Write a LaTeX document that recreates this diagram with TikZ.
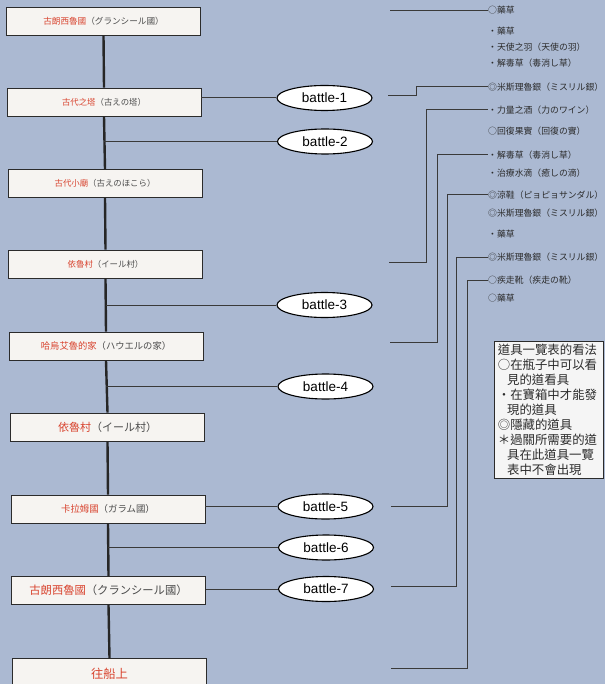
\documentclass[tikz,border=0pt]{standalone}
\usepackage{fontspec}
\setmainfont{Liberation Sans}
\newfontfamily\cjk{Noto Sans CJK TC}
\usetikzlibrary{shapes.geometric}
\definecolor{bg}{HTML}{ABB9D2}
\definecolor{boxfill}{HTML}{F6F4F1}
\definecolor{redtxt}{HTML}{D8432E}
\definecolor{ink}{HTML}{2B2B2B}
\definecolor{linecol}{HTML}{3A3A3A}
\newcommand\plc[2]{\textcolor{redtxt}{#1}\textcolor{ink!85}{（#2）}}
\newcommand\fs[1]{\fontsize{#1}{#1}\selectfont}
\begin{document}
\begin{tikzpicture}[x=1pt,y=-1pt,
  place/.style={draw=ink, line width=0.9pt, fill=boxfill, minimum width=194pt,
    minimum height=28pt, inner sep=0pt, font=\cjk},
  battle/.style={ellipse, draw=black, line width=1.1pt, fill=white,
    minimum width=95pt, minimum height=25pt, inner sep=0pt,
    font=\fontsize{13.5}{14}\selectfont},
  item/.style={anchor=west, inner sep=0pt, text=ink, font=\cjk\fs{8.85}},
  conn/.style={draw=linecol, line width=1pt},
  trunkline/.style={draw=black!85, line width=2.4pt},
  legend/.style={draw=ink, line width=0.7pt, fill=white!92!gray, anchor=north west,
    text width=102pt, inner xsep=3.5pt, inner ysep=2.5pt, align=left, text=ink,
    font=\cjk\fontsize{12.4}{15}\selectfont},
]
\useasboundingbox (0,0) rectangle (605,684);
\clip (0,0) rectangle (605,684);
\fill[bg] (0,0) rectangle (605,684);

% location boxes
\node[place] (box1) at (103.5,21) {\fs{8.6}\plc{古朗西魯國}{グランシール國}};
\node[place] (box2) at (104,102) {\fs{8.4}\plc{古代之塔}{古えの塔}};
\node[place] (box3) at (105,183.5) {\fs{8.4}\plc{古代小廟}{古えのほこら}};
\node[place] (box4) at (105.5,264) {\fs{8.4}\plc{依魯村}{イール村}};
\node[place] (box5) at (106,346) {\fs{9.3}\plc{哈烏艾魯的家}{ハウエルの家}};
\node[place] (box6) at (107.5,427) {\fs{11}\plc{依魯村}{イール村}};
\node[place] (box7) at (108,509) {\fs{9.4}\plc{卡拉姆國}{ガラム國}};
\node[place] (box8) at (108.5,590.5) {\fs{11.3}\plc{古朗西魯國}{クランシール國}};
\node[place, anchor=north, minimum height=30pt] (box9) at (109.5,658)
  {\fs{12.3}\textcolor{redtxt}{往船上}};

% trunk
\draw[trunkline] (box1.south) -- (box2.north);
\draw[trunkline] (box2.south) -- (box3.north);
\draw[trunkline] (box3.south) -- (box4.north);
\draw[trunkline] (box4.south) -- (box5.north);
\draw[trunkline] (box5.south) -- (box6.north);
\draw[trunkline] (box6.south) -- (box7.north);
\draw[trunkline] (box7.south) -- (box8.north);
\draw[trunkline] (box8.south) -- (box9.north);

% battles
\node[battle] (b1) at (324.5,98) {battle-1};
\node[battle] (b2) at (325,141.5) {battle-2};
\node[battle] (b3) at (324.5,305) {battle-3};
\node[battle] (b4) at (325.5,386.5) {battle-4};
\node[battle] (b5) at (325.5,506.5) {battle-5};
\node[battle] (b6) at (326,547.5) {battle-6};
\node[battle] (b7) at (326,589) {battle-7};

\draw[conn] (box2.east |- b1.west) -- (b1.west);
\draw[conn] (b2.west -| box2.south) -- (b2.west);
\draw[conn] (b3.west -| box4.south) -- (b3.west);
\draw[conn] (b4.west -| box5.south) -- (b4.west);
\draw[conn] (box7.east |- b5.west) -- (b5.west);
\draw[conn] (b6.west -| box7.south) -- (b6.west);
\draw[conn] (box8.east |- b7.west) -- (b7.west);

% items
\node[item] (i1) at (488,10.5) {○藥草};
\node[item] (i2) at (488,31) {・藥草};
\node[item] (i3) at (488,47) {・天使之羽（天使の羽）};
\node[item] (i4) at (488,63) {・解毒草（毒消し草）};
\node[item] (i5) at (488,87) {◎米斯理魯銀（ミスリル銀）};
\node[item] (i6) at (488,110) {・力量之酒（力のワイン）};
\node[item] (i7) at (488,131) {○回復果實（回復の實）};
\node[item] (i8) at (488,155) {・解毒草（毒消し草）};
\node[item] (i9) at (488,173) {・治療水滴（癒しの滴）};
\node[item] (i10) at (488,195) {◎涼鞋（ピョピョサンダル）};
\node[item] (i11) at (488,213) {◎米斯理魯銀（ミスリル銀）};
\node[item] (i12) at (488,234) {・藥草};
\node[item] (i13) at (488,257) {◎米斯理魯銀（ミスリル銀）};
\node[item] (i14) at (488,280.5) {○疾走靴（疾走の靴）};
\node[item] (i15) at (488,298.5) {○藥草};

% item connectors
\coordinate (r0) at (390,10.5);
\coordinate (r1) at (388,96);
\coordinate (r2) at (389,262);
\coordinate (r3) at (390,342);
\coordinate (r4) at (391,506);
\coordinate (r5) at (391,586);
\coordinate (r6) at (391,668);
\draw[conn] (r0) -- (i1.west);
\draw[conn] (r1) -- ++(28,0) |- (i5.west);
\draw[conn] (r2) -- ++(37,0) |- (i6.west);
\draw[conn] (r3) -- ++(47,0) |- (i8.west);
\draw[conn] (r4) -- ++(56,0) |- (i10.west);
\draw[conn] (r5) -- ++(65,0) |- (i13.west);
\draw[conn] (r6) -- ++(76,0) |- (i14.west);

% legend
\node[legend] (legend) at (494,341) {道具一覽表的看法\\
○在瓶子中可以看\\
\hspace*{0.75em}見的道看具\\
・在寶箱中才能發\\
\hspace*{0.75em}現的道具\\
◎隱藏的道具\\
＊過關所需要的道\\
\hspace*{0.75em}具在此道具一覽\\
\hspace*{0.75em}表中不會出現};
\end{tikzpicture}
\end{document}
